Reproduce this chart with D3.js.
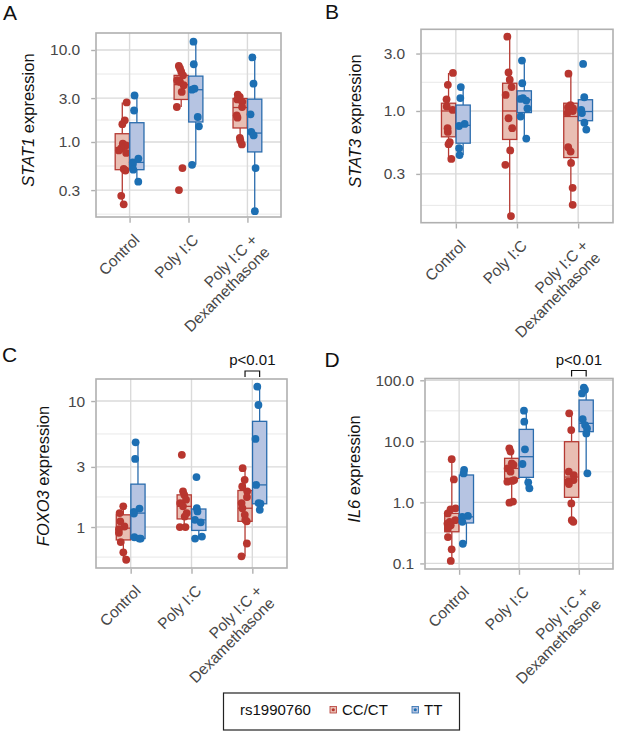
<!DOCTYPE html>
<html>
<head>
<meta charset="utf-8">
<script src="https://cdn.jsdelivr.net/npm/d3@7"></script>
<style>
    body { margin: 0; background: #fff; }
    svg { font-family: "Liberation Sans", Arial, sans-serif; }
</style>
</head>
<body>
<svg id="drawing_region"></svg>
<script>
// ---- data ----
const categories = ["Control", "Poly I:C", "Poly I:C +\nDexamethasone"];
const genotypes = ["CC/CT", "TT"];

// one list of values per category (Control, Poly I:C, Poly I:C + Dex)
const stat1_cc = [
    [2.69, 1.72, 1.56, 0.96, 0.92, 0.88, 0.85, 0.81, 0.76, 0.51, 0.49, 0.26, 0.21],
    [6.7, 6.3, 5.8, 5.3, 4.7, 4.5, 4.15, 3.5, 2.4, 0.52, 0.30],
    [3.28, 3.1, 2.9, 2.73, 2.4, 1.95, 1.84, 1.11, 1.04, 0.94]
];
const stat1_tt = [
    [3.2, 2.2, 0.66, 0.6, 0.57, 0.5, 0.37],
    [12.3, 7.0, 3.8, 3.7, 1.87, 1.48, 0.565],
    [8.3, 4.3, 2.0, 1.29, 1.18, 0.52, 0.177]
];
// [lower whisker, q1, median, q3, upper whisker]
const stat1_box_cc = [[0.21, 0.50, 0.87, 1.23, 2.69], [2.4, 2.9, 4.2, 5.3, 6.7], [0.94, 1.42, 2.37, 2.97, 3.28]];
const stat1_box_tt = [[0.37, 0.50, 0.60, 1.62, 3.2], [0.565, 1.65, 3.7, 5.2, 12.3], [0.177, 0.78, 1.25, 2.92, 8.3]];
const stat1_ticks = [0.3, 1, 3, 10];

const stat3_cc = [
    [2.07, 1.65, 1.25, 1.09, 1.02, 0.72, 0.67, 0.55, 0.53, 0.40],
    [4.14, 2.09, 1.82, 1.58, 1.36, 0.87, 0.72, 0.47, 0.357, 0.134],
    [2.04, 1.12, 1.07, 1.05, 1.0, 0.96, 0.50, 0.46, 0.37, 0.23, 0.166]
];
const stat3_tt = [
    [1.58, 1.28, 0.78, 0.75, 0.49, 0.43],
    [2.62, 1.7, 1.28, 1.26, 1.22, 1.05, 0.9, 0.59],
    [2.46, 1.3, 1.02, 0.96, 0.8, 0.7]
];
const stat3_box_cc = [[0.40, 0.61, 1.0, 1.16, 2.07], [0.134, 0.58, 1.0, 1.7, 4.14], [0.166, 0.41, 0.9, 1.16, 2.04]];
const stat3_box_tt = [[0.43, 0.54, 0.76, 1.12, 1.58], [0.59, 0.97, 1.24, 1.47, 2.62], [0.7, 0.83, 0.99, 1.24, 1.3]];
const stat3_ticks = [0.3, 1, 3];

const foxo3_cc = [
    [1.46, 1.29, 1.11, 1.01, 0.96, 0.90, 0.76, 0.63, 0.55],
    [3.74, 1.92, 1.8, 1.65, 1.55, 1.46, 1.29, 1.21, 1.0, 1.0],
    [2.93, 2.37, 2.10, 1.92, 1.73, 1.55, 1.41, 1.25, 1.14, 1.11, 0.74, 0.585]
];
const foxo3_tt = [
    [4.7, 3.47, 1.4, 1.32, 1.28, 0.83, 0.81, 0.81],
    [2.49, 1.41, 1.33, 1.14, 1.09, 0.84, 0.81],
    [13.0, 9.3, 5.0, 2.16, 1.55, 1.53, 1.37]
];
const foxo3_box_cc = [[0.55, 0.79, 0.98, 1.25, 1.46], [1.0, 1.16, 1.46, 1.8, 1.92], [0.585, 1.11, 1.41, 1.95, 2.93]];
const foxo3_box_tt = [[0.81, 0.81, 1.29, 2.19, 4.7], [0.81, 0.94, 1.14, 1.39, 1.41], [1.37, 1.53, 2.16, 6.9, 13.0]];
const foxo3_ticks = [1, 3, 10];

const il6_cc = [
    [5.1, 2.38, 0.80, 0.77, 0.66, 0.51, 0.48, 0.45, 0.42, 0.375, 0.27, 0.17, 0.11],
    [7.68, 6.8, 4.36, 4.1, 3.6, 3.18, 2.32, 2.25, 2.18, 1.03, 0.99],
    [28.8, 15.3, 3.18, 2.8, 2.32, 2.18, 2.0, 0.96, 0.51, 0.48]
];
const il6_tt = [
    [3.39, 2.98, 0.60, 0.58, 0.48, 0.21],
    [31.8, 21, 7.4, 4.25, 2.13, 1.70],
    [76, 70, 61, 23, 18.5, 16.3, 13.5, 2.99]
];
const il6_box_cc = [[0.11, 0.33, 0.48, 0.66, 5.1], [0.99, 2.47, 3.6, 5.27, 7.68], [0.48, 1.21, 2.6, 9.86, 28.8]];
const il6_box_tt = [[0.21, 0.46, 0.58, 2.81, 3.39], [1.70, 2.57, 5.6, 15.7, 31.8], [2.99, 14.4, 19.7, 47.5, 76]];
const il6_ticks = [0.1, 1, 10, 100];

const legend_title = "rs1990760";
const pvalue_label = "p<0.01";

// ---- styles ----
const colors = {
    "CC/CT": { dot: "#B8362F", line: "#B53A33", fill: "#E9BEB3" },
    "TT":    { dot: "#1D6FB3", line: "#2A6CAD", fill: "#B6C4E2" }
};

const svg = d3.select('#drawing_region')
    .attr('width', 617)
    .attr('height', 731);

class BoxPanel {

    constructor(config, data) {
        this.config = config;
        this.data = data;
        this.init();
    }

    init() {
        let self = this;
        let c = self.config;
        self.chart = svg.append('g');

        self.xscale = d3.scalePoint()
            .domain(categories)
            .range([c.left, c.right])
            .padding(0.57);

        self.yscale = d3.scaleLog()
            .domain(c.domain)
            .range([c.bottom, c.top]);
    }

    minorBreaks() {
        // ggplot style: midpoints between majors (in log space), extended one step each side
        let lb = this.data.ticks.map(Math.log10);
        let ext = [lb[0] - (lb[1] - lb[0]), ...lb, lb[lb.length - 1] + (lb[lb.length - 1] - lb[lb.length - 2])];
        let mids = d3.pairs(ext).map(p => Math.pow(10, (p[0] + p[1]) / 2));
        let [lo, hi] = this.config.domain;
        return mids.filter(v => v > lo && v < hi);
    }

    render() {
        let self = this;
        let c = self.config;
        let d = self.data;
        let g = self.chart;

        // grid
        g.append('g').selectAll('line').data(self.minorBreaks()).join('line')
            .attr('x1', c.left).attr('x2', c.right)
            .attr('y1', v => self.yscale(v)).attr('y2', v => self.yscale(v))
            .attr('stroke', '#e2e2e2').attr('stroke-width', 0.8);
        g.append('g').selectAll('line').data(d.ticks).join('line')
            .attr('x1', c.left).attr('x2', c.right)
            .attr('y1', v => self.yscale(v)).attr('y2', v => self.yscale(v))
            .attr('stroke', '#dadada').attr('stroke-width', 1.4);
        g.append('g').selectAll('line').data(categories).join('line')
            .attr('x1', k => self.xscale(k)).attr('x2', k => self.xscale(k))
            .attr('y1', c.top).attr('y2', c.bottom)
            .attr('stroke', '#dadada').attr('stroke-width', 1.4);

        // boxes and points
        const dodge = 7.3, bw = 14.2;
        genotypes.forEach((gt, gi) => {
            let col = colors[gt];
            let boxes = gi === 0 ? d.boxCc : d.boxTt;
            let values = gi === 0 ? d.cc : d.tt;
            let off = gi === 0 ? -dodge : dodge;

            categories.forEach((cat, ci) => {
                let cx = self.xscale(cat) + off;
                let [lo, q1, med, q3, hi] = boxes[ci];
                let bg = g.append('g');
                bg.append('line')
                    .attr('x1', cx).attr('x2', cx)
                    .attr('y1', self.yscale(hi)).attr('y2', self.yscale(q3))
                    .attr('stroke', col.line).attr('stroke-width', 1.3);
                bg.append('line')
                    .attr('x1', cx).attr('x2', cx)
                    .attr('y1', self.yscale(q1)).attr('y2', self.yscale(lo))
                    .attr('stroke', col.line).attr('stroke-width', 1.3);
                bg.append('rect')
                    .attr('x', cx - bw / 2).attr('width', bw)
                    .attr('y', self.yscale(q3))
                    .attr('height', self.yscale(q1) - self.yscale(q3))
                    .attr('fill', col.fill).attr('stroke', col.line).attr('stroke-width', 1.3);
                bg.append('line')
                    .attr('x1', cx - bw / 2).attr('x2', cx + bw / 2)
                    .attr('y1', self.yscale(med)).attr('y2', self.yscale(med))
                    .attr('stroke', col.line).attr('stroke-width', 1.3);

                // deterministic jitter for the dots
                let rng = d3.randomLcg(c.seed + gi * 10 + ci);
                bg.selectAll('circle').data(values[ci]).join('circle')
                    .attr('cx', () => cx + (rng() - 0.5) * 9)
                    .attr('cy', v => self.yscale(v))
                    .attr('r', 3.9)
                    .attr('fill', col.dot);
            });
        });

        // panel border
        g.append('rect')
            .attr('x', c.left).attr('y', c.top)
            .attr('width', c.right - c.left).attr('height', c.bottom - c.top)
            .attr('fill', 'none').attr('stroke', '#b0b0b0').attr('stroke-width', 1.6);

        // y axis
        let yaxis = d3.axisLeft(self.yscale)
            .tickValues(d.ticks)
            .tickFormat(d3.format(d.fmt))
            .tickSize(4)
            .tickPadding(c.ypad);
        let yg = g.append('g')
            .attr('transform', `translate(${c.left - 0.8}, 0)`)
            .call(yaxis);
        yg.select('.domain').remove();
        yg.selectAll('.tick line').attr('stroke', '#b0b0b0').attr('stroke-width', 1.4);
        yg.selectAll('.tick text')
            .attr('fill', '#474747')
            .style('font-size', '15.5px')
            .style('font-family', '"Liberation Sans", Arial, sans-serif');

        // x axis
        let xaxis = d3.axisBottom(self.xscale).tickSize(5).tickFormat('');
        let xg = g.append('g')
            .attr('transform', `translate(0, ${c.bottom + 0.8})`)
            .call(xaxis);
        xg.select('.domain').remove();
        xg.selectAll('.tick line').attr('stroke', '#b0b0b0').attr('stroke-width', 1.4);

        categories.forEach(cat => {
            let t = g.append('text')
                .attr('transform', `translate(${self.xscale(cat) + 3}, ${c.bottom + 16}) rotate(-45)`)
                .attr('text-anchor', 'end')
                .attr('fill', '#474747')
                .style('font-size', '15.5px');
            cat.split('\n').forEach((line, i) => {
                t.append('tspan')
                    .attr('x', 0)
                    .attr('dy', i === 0 ? '0.72em' : '1.12em')
                    .text(line);
            });
        });

        // y title
        let title = g.append('text')
            .attr('transform', `translate(${c.titleX}, ${c.titleY}) rotate(-90)`)
            .attr('text-anchor', 'middle')
            .attr('fill', '#111')
            .style('font-size', '16.5px');
        title.append('tspan').style('font-style', 'italic').text(d.gene);
        title.append('tspan').text(' expression');

        // panel letter
        g.append('text')
            .attr('x', c.letterX).attr('y', c.letterY)
            .attr('fill', '#111')
            .style('font-size', '21px')
            .text(d.letter);

        // significance bracket over the dexamethasone pair
        if (d.pvalue) {
            let px = self.xscale(categories[2]);
            g.append('path')
                .attr('d', `M${px - dodge},${c.top - 2} V${c.top - 8} H${px + dodge} V${c.top - 2}`)
                .attr('fill', 'none').attr('stroke', '#111').attr('stroke-width', 1.2);
            g.append('text')
                .attr('x', px).attr('y', c.top - 14)
                .attr('text-anchor', 'middle')
                .attr('fill', '#111')
                .style('font-size', '15px')
                .text(pvalue_label);
        }
    }
}

const panelA = new BoxPanel(
    { left: 96, right: 281, top: 33, bottom: 217, domain: [0.153, 15.3], ypad: 11,
      titleX: 34, titleY: 120, letterX: 3, letterY: 20, seed: 0.11 },
    { letter: "A", gene: "STAT1", cc: stat1_cc, tt: stat1_tt, boxCc: stat1_box_cc, boxTt: stat1_box_tt,
      ticks: stat1_ticks, fmt: ".1f", pvalue: false });
const panelB = new BoxPanel(
    { left: 421, right: 613, top: 29.3, bottom: 222.7, domain: [0.118, 4.77], ypad: 11,
      titleX: 361, titleY: 121, letterX: 325, letterY: 18.5, seed: 0.23 },
    { letter: "B", gene: "STAT3", cc: stat3_cc, tt: stat3_tt, boxCc: stat3_box_cc, boxTt: stat3_box_tt,
      ticks: stat3_ticks, fmt: ".1f", pvalue: false });
const panelC = new BoxPanel(
    { left: 96, right: 287, top: 379, bottom: 568, domain: [0.473, 14.96], ypad: 6,
      titleX: 49, titleY: 476, letterX: 2, letterY: 362, seed: 0.37 },
    { letter: "C", gene: "FOXO3", cc: foxo3_cc, tt: foxo3_tt, boxCc: foxo3_box_cc, boxTt: foxo3_box_tt,
      ticks: foxo3_ticks, fmt: "d", pvalue: true });
const panelD = new BoxPanel(
    { left: 425, right: 613, top: 378.5, bottom: 569, domain: [0.081, 107], ypad: 6,
      titleX: 360, titleY: 469, letterX: 324.5, letterY: 367, seed: 0.49 },
    { letter: "D", gene: "IL6", cc: il6_cc, tt: il6_tt, boxCc: il6_box_cc, boxTt: il6_box_tt,
      ticks: il6_ticks, fmt: ".1f", pvalue: true });

[panelA, panelB, panelC, panelD].forEach(p => p.render());

// ---- legend ----
const legend = svg.append('g');
legend.append('rect')
    .attr('x', 223.5).attr('y', 693).attr('width', 236).attr('height', 37)
    .attr('fill', 'none').attr('stroke', '#222').attr('stroke-width', 1.2);
legend.append('text')
    .attr('x', 240).attr('y', 714.5)
    .attr('fill', '#111').style('font-size', '15px')
    .text(legend_title);
const keyX = [330, 412];
genotypes.forEach((gt, i) => {
    let col = colors[gt];
    legend.append('rect')
        .attr('x', keyX[i]).attr('y', 706.5).attr('width', 6.5).attr('height', 6.5)
        .attr('fill', col.fill).attr('stroke', col.line).attr('stroke-width', 0.8);
    legend.append('circle')
        .attr('cx', keyX[i] + 3.25).attr('cy', 709.75).attr('r', 1.6)
        .attr('fill', col.dot);
    legend.append('text')
        .attr('x', keyX[i] + 12).attr('y', 714.5)
        .attr('fill', '#111').style('font-size', '15px')
        .text(gt);
});
</script>
</body>
</html>
